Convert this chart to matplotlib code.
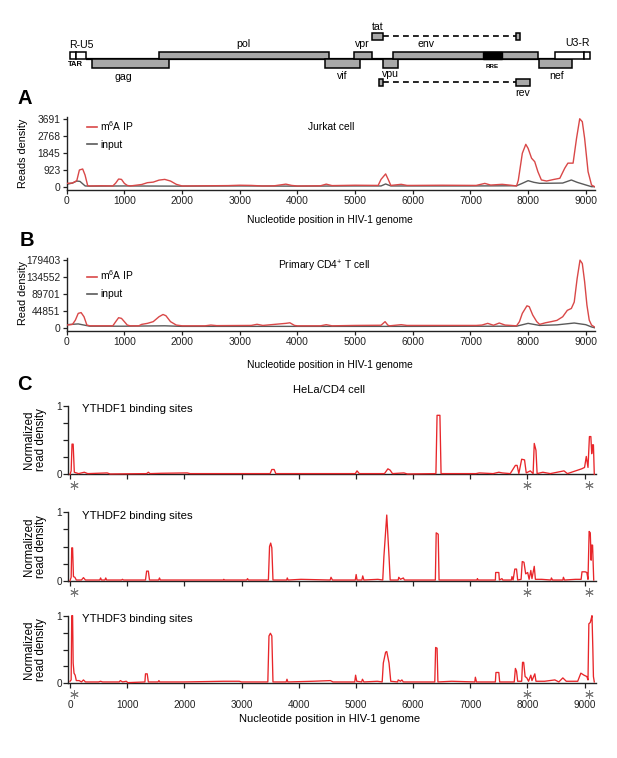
import matplotlib
matplotlib.use('Agg')
import matplotlib.pyplot as plt
from matplotlib.patches import Rectangle
from matplotlib.lines import Line2D
import matplotlib.transforms as mtransforms

plt.rcParams['font.family'] = ['Liberation Sans', 'DejaVu Sans']
plt.rcParams['mathtext.fontset'] = 'custom'
plt.rcParams['mathtext.rm'] = 'Liberation Sans'

# ---------------- DATA ----------------
# Genome map (nucleotide coordinates)
gene_names = ['gag', 'pol', 'vif', 'vpr', 'tat', 'tat', 'vpu', 'env', 'rev', 'rev', 'nef']
gene_start = [433, 1605, 4477, 4979, 5286, 7782, 5487, 5650, 5412, 7782, 8191]
gene_end = [1778, 4555, 5083, 5286, 5487, 7868, 5747, 8173, 5487, 8030, 8769]
gene_row = ['lower', 'upper', 'lower', 'upper', 'tat', 'tat', 'lower', 'upper', 'rev', 'rev', 'lower']
rre_range = [7210, 7549]
ltr5_boxes = [(57, 161), (161, 329)]
ltr3_boxes = [(8463, 8965), (8965, 9081)]

# Panel A: Jurkat cell
a_ip_x = [0, 100, 175, 220, 277, 318, 364, 400, 600, 800, 850, 900, 950, 1000, 1050, 1100,
          1300, 1400, 1500, 1600, 1700, 1800, 1900, 2000, 2400, 2800, 3000, 3200, 3400,
          3600, 3800, 3900, 4000, 4400, 4500, 4600, 4800, 5000, 5400, 5450, 5530, 5580,
          5620, 5800, 5900, 6000, 6500, 7100, 7250, 7350, 7550, 7700, 7800, 7830, 7900,
          7960, 8000, 8060, 8115, 8170, 8230, 8320, 8450, 8550, 8635, 8690, 8780, 8840,
          8895, 8940, 8980, 9040, 9100, 9155]
a_ip_y = [185, 200, 330, 915, 970, 640, 55, 40, 50, 40, 200, 420, 400, 180, 70, 40,
          120, 220, 250, 360, 400, 310, 130, 40, 50, 60, 80, 70, 40,
          50, 140, 70, 40, 50, 140, 60, 70, 80, 70, 400, 700, 360,
          70, 130, 70, 70, 80, 70, 180, 90, 130, 80, 40, 350, 1830,
          2320, 2100, 1560, 1370, 820, 370, 310, 400, 460, 1010, 1290, 1290, 2650,
          3720, 3560, 2650, 820, 90, 0]
a_in_x = [0, 100, 175, 230, 320, 400, 1000, 2000, 3000, 4000, 5000, 5450, 5530, 5620,
          6000, 7000, 7800, 7900, 8000, 8100, 8200, 8400, 8600, 8750, 8850, 9000, 9100, 9155]
a_in_y = [130, 200, 310, 290, 40, 30, 40, 30, 40, 30, 40, 40, 150, 40,
          40, 40, 50, 185, 330, 240, 185, 190, 200, 367, 240, 95, 0, 0]

# Panel B: Primary CD4+ T cell
b_ip_x = [0, 100, 150, 200, 250, 300, 350, 400, 800, 850, 900, 950, 1000, 1050, 1100, 1250,
          1300, 1400, 1500, 1600, 1670, 1720, 1800, 1900, 2000, 2400, 2500, 2600, 3200,
          3300, 3400, 3800, 3870, 3950, 4000, 4400, 4500, 4600, 5000, 5450, 5520, 5570,
          5600, 5800, 5900, 6000, 7100, 7200, 7300, 7400, 7500, 7600, 7800, 7850, 7900,
          7980, 8020, 8080, 8150, 8200, 8300, 8400, 8500, 8600, 8680, 8750, 8800, 8850,
          8900, 8940, 8980, 9020, 9060, 9100, 9150]
b_ip_y = [7000, 8800, 20000, 38000, 40000, 29000, 7000, 5000, 5000, 16000, 26500, 24700,
          16000, 7000, 5000, 5000, 8800, 11500, 16000, 29000, 35000, 31800, 16000, 7000,
          5000, 5000, 7000, 5500, 6000, 9000, 6000, 11500, 13000, 6000, 5000, 5000, 8000,
          5000, 6000, 6500, 16000, 6500, 5000, 8000, 6000, 6000, 6000, 7000, 11500, 6500,
          12400, 7000, 5000, 16000, 38000, 58000, 55700, 33600, 16000, 8800, 13000, 16000,
          19400, 29000, 46000, 51000, 68000, 130000, 179000, 170000, 122000, 60000, 20000,
          7000, 2000]
b_in_x = [0, 200, 400, 1000, 1700, 2000, 4000, 6000, 7800, 8000, 8200, 8500, 8800, 9000,
          9100, 9150]
b_in_y = [8000, 10000, 4000, 4000, 5000, 3500, 3500, 3500, 4000, 11500, 6000, 7500, 12400,
          8000, 2000, 0]

# Panel C: HeLa/CD4 cell, YTHDF1-3 binding sites (normalized)
c1_x = [0, 20, 35, 55, 75, 150, 250, 310, 650, 700, 1340, 1370, 1400, 1600, 2050, 2100,
        3000, 3500, 3530, 3570, 3600, 4000, 4990, 5020, 5060, 5500, 5560, 5600, 5640,
        5840, 5900, 6400, 6420, 6470, 6490, 7100, 7160, 7400, 7500, 7560, 7700, 7790,
        7820, 7850, 7900, 7950, 7980, 8050, 8100, 8120, 8150, 8170, 8270, 8400, 8640,
        8700, 8950, 9000, 9030, 9060, 9085, 9110, 9125, 9140, 9155, 9170]
c1_y = [0.0, 0.05, 0.44, 0.44, 0.03, 0.01, 0.03, 0.01, 0.02, 0.005, 0.01, 0.03, 0.01,
        0.015, 0.02, 0.01, 0.01, 0.01, 0.07, 0.07, 0.01, 0.01, 0.01, 0.05, 0.01, 0.01,
        0.08, 0.06, 0.01, 0.02, 0.005, 0.01, 0.86, 0.86, 0.01, 0.01, 0.02, 0.01, 0.03,
        0.02, 0.01, 0.13, 0.13, 0.01, 0.22, 0.21, 0.02, 0.05, 0.01, 0.45, 0.35, 0.01,
        0.03, 0.01, 0.05, 0.01, 0.08, 0.1, 0.26, 0.1, 0.55, 0.55, 0.3, 0.43, 0.43, 0.0]
c2_x = [0, 20, 30, 45, 60, 85, 110, 200, 235, 270, 520, 535, 550, 610, 625, 640, 900, 917,
        935, 1320, 1340, 1370, 1390, 1550, 1565, 1580, 2680, 2690, 2700, 3090, 3105, 3120,
        3470, 3490, 3510, 3530, 3550, 3790, 3800, 3815, 4040, 4550, 4565, 4590, 4990,
        5005, 5020, 5105, 5120, 5140, 5385, 5470, 5490, 5540, 5580, 5600, 5740, 5750,
        5780, 5830, 5850, 6390, 6405, 6440, 6455, 7120, 7125, 7140, 7440, 7445, 7500,
        7510, 7555, 7570, 7720, 7730, 7750, 7780, 7810, 7830, 7890, 7910, 7940, 7970,
        8005, 8030, 8060, 8080, 8120, 8140, 8250, 8410, 8420, 8440, 8620, 8630, 8650,
        8840, 8940, 8955, 9010, 9040, 9060, 9080, 9100, 9115, 9125, 9140, 9160]
c2_y = [0.0, 0.05, 0.48, 0.48, 0.06, 0.05, 0.01, 0.01, 0.045, 0.01, 0.01, 0.04, 0.01,
        0.01, 0.04, 0.01, 0.01, 0.02, 0.01, 0.01, 0.14, 0.14, 0.01, 0.01, 0.04, 0.01,
        0.01, 0.02, 0.01, 0.01, 0.03, 0.01, 0.01, 0.5, 0.55, 0.48, 0.01, 0.01, 0.04,
        0.01, 0.02, 0.01, 0.05, 0.01, 0.01, 0.09, 0.01, 0.01, 0.07, 0.01, 0.02, 0.01,
        0.35, 0.96, 0.35, 0.01, 0.01, 0.05, 0.02, 0.04, 0.01, 0.01, 0.70, 0.68, 0.01,
        0.01, 0.03, 0.01, 0.01, 0.12, 0.12, 0.01, 0.03, 0.01, 0.01, 0.06, 0.01, 0.17,
        0.17, 0.01, 0.02, 0.28, 0.27, 0.1, 0.12, 0.02, 0.15, 0.03, 0.21, 0.02, 0.02,
        0.01, 0.04, 0.01, 0.01, 0.05, 0.01, 0.02, 0.02, 0.13, 0.13, 0.12, 0.02, 0.72,
        0.7, 0.3, 0.52, 0.52, 0.01]
c3_x = [0, 20, 30, 45, 55, 70, 90, 110, 160, 200, 235, 270, 500, 535, 570, 860, 880, 920,
        985, 1010, 1310, 1320, 1350, 1370, 1540, 1555, 1570, 1990, 2685, 2960, 3000,
        3460, 3480, 3505, 3530, 3550, 3780, 3795, 3810, 4245, 4555, 4600, 4980, 4995,
        5015, 5100, 5115, 5140, 5375, 5460, 5480, 5520, 5540, 5580, 5610, 5730, 5740,
        5780, 5805, 5830, 6380, 6395, 6420, 6435, 6675, 7080, 7090, 7110, 7440, 7450,
        7500, 7515, 7770, 7790, 7810, 7830, 7900, 7915, 7935, 7960, 7990, 8020, 8060,
        8080, 8130, 8150, 8300, 8480, 8550, 8620, 8680, 8880, 8935, 8990, 9040, 9060,
        9075, 9100, 9115, 9130, 9145, 9155, 9170]
c3_y = [0.03, 0.05, 1.0, 1.0, 0.3, 0.15, 0.12, 0.04, 0.04, 0.02, 0.05, 0.02, 0.02, 0.03,
        0.02, 0.02, 0.04, 0.02, 0.03, 0.01, 0.02, 0.14, 0.14, 0.02, 0.02, 0.04, 0.02,
        0.02, 0.03, 0.03, 0.02, 0.02, 0.7, 0.74, 0.7, 0.02, 0.02, 0.06, 0.02, 0.03, 0.04,
        0.02, 0.02, 0.12, 0.03, 0.02, 0.06, 0.02, 0.03, 0.02, 0.3, 0.46, 0.47, 0.3, 0.03,
        0.02, 0.05, 0.03, 0.05, 0.02, 0.02, 0.53, 0.52, 0.02, 0.03, 0.02, 0.09, 0.02,
        0.02, 0.16, 0.16, 0.02, 0.02, 0.22, 0.18, 0.03, 0.03, 0.31, 0.31, 0.1, 0.08, 0.03,
        0.12, 0.04, 0.14, 0.03, 0.03, 0.05, 0.02, 0.08, 0.03, 0.03, 0.15, 0.12, 0.1, 0.05,
        0.88, 0.9, 0.95, 1.0, 0.5, 0.1, 0.02]
c_labels = ['YTHDF1 binding sites', 'YTHDF2 binding sites', 'YTHDF3 binding sites']
star_pos = [70, 8000, 9070]

a_yticks = [0, 923, 1845, 2768, 3691]
b_yticks = [0, 44851, 89701, 134552, 179403]
x_ticks = [0, 1000, 2000, 3000, 4000, 5000, 6000, 7000, 8000, 9000]

# ---------------- STYLE / LAYOUT ----------------
W, H = 617, 758
RED = '#d94848'
GRAY = '#5a5a5a'
CRED = '#e8262a'
FS = 7.4

fig = plt.figure(figsize=(W / 100, H / 100), dpi=100)


def add_ax(l, t, r, b):
    return fig.add_axes([l / W, 1 - b / H, (r - l) / W, (b - t) / H])


def fx(px):
    return px / W


def fy(py):
    return 1 - py / H


# ---------------- Genome map ----------------
gm = add_ax(66.7, 20, 595, 100)
gm.set_xlim(0, 9160)
gm.set_ylim(100, 20)
gm.axis('off')
rows = {'upper': (51.7, 59.3), 'lower': (59.3, 68.0), 'tat': (32.5, 40.3), 'rev': (78.5, 86.3)}
gm.plot([329, 8463], [59.3, 59.3], color='black', lw=1.6, zorder=1, solid_capstyle='butt')
for name, s, e, r in zip(gene_names, gene_start, gene_end, gene_row):
    y0, y1 = rows[r]
    gm.add_patch(Rectangle((s, y0), e - s, y1 - y0, facecolor='#a8a8a8',
                           edgecolor='black', lw=1.1, zorder=3))
gm.add_patch(Rectangle((rre_range[0], rows['upper'][0]), rre_range[1] - rre_range[0],
                       rows['upper'][1] - rows['upper'][0], facecolor='black',
                       edgecolor='black', lw=1.0, zorder=4))
for s, e in ltr5_boxes + ltr3_boxes:
    y0, y1 = rows['upper']
    gm.add_patch(Rectangle((s, y0), e - s, y1 - y0, facecolor='white',
                           edgecolor='black', lw=1.1, zorder=3))
# dashed splice lines
gm.plot([gene_end[4], gene_start[5]], [36.4, 36.4], color='black', lw=1.2, ls=(0, (3.5, 2.5)))
gm.plot([gene_end[8], gene_start[9]], [82.4, 82.4], color='black', lw=1.2, ls=(0, (3.5, 2.5)))

glabels = [('R-U5', 40, 44.5, 'left'), ('TAR', 30, 64.5, 'left'), ('gag', 980, 76.5, 'center'),
           ('pol', 3060, 44.0, 'center'), ('vif', 4780, 75.8, 'center'),
           ('vpr', 5130, 44.3, 'center'), ('tat', 5390, 27.0, 'center'),
           ('env', 6230, 44.3, 'center'), ('vpu', 5610, 74.3, 'center'),
           ('nef', 8490, 75.8, 'center'), ('rev', 7905, 92.5, 'center'),
           ('U3-R', 8850, 43.5, 'center')]
for t, x, y, ha in glabels:
    fw = 'bold' if t == 'TAR' else 'normal'
    fs = 5.5 if t == 'TAR' else 7.6
    gm.text(x, y, t, ha=ha, va='center', fontsize=fs, fontweight=fw)
gm.text(sum(rre_range) / 2, 66.7, 'RRE', ha='center', va='center', fontsize=4.5, fontweight='bold')


# ---------------- Panels A, B ----------------
def style_ab(ax, yticks):
    ax.set_xlim(0, 9160)
    for s in ['top', 'right']:
        ax.spines[s].set_visible(False)
    for s in ['left', 'bottom']:
        ax.spines[s].set_linewidth(1.0)
        ax.spines[s].set_color('#222222')
    ax.set_xticks(x_ticks)
    ax.set_yticks(yticks)
    ax.set_yticklabels([str(v) for v in yticks])
    ax.tick_params(direction='out', length=3, width=0.9, labelsize=FS, pad=1.5, colors='#222222')


axA = add_ax(66.7, 117, 595, 190)
axA.plot(a_ip_x, a_ip_y, color=RED, lw=1.0, zorder=3)
axA.plot(a_in_x, a_in_y, color=GRAY, lw=1.0, zorder=2)
axA.set_ylim(-181, 3817)
style_ab(axA, a_yticks)
axA.text(4580, 3277, 'Jurkat cell', ha='center', va='center', fontsize=FS)

axB = add_ax(66.7, 257.7, 595, 331)
axB.plot(b_ip_x, b_ip_y, color=RED, lw=1.0, zorder=3)
axB.plot(b_in_x, b_in_y, color=GRAY, lw=1.0, zorder=2)
axB.set_ylim(-8750, 185500)
style_ab(axB, b_yticks)
axB.text(4455, 161800, r'Primary CD4$^{\mathregular{+}}$ T cell', ha='center', va='center', fontsize=FS)

for ax, ytop in [(axA, 119), (axB, 268.5)]:
    handles = [Line2D([], [], color=RED, lw=1.2), Line2D([], [], color=GRAY, lw=1.2)]
    ax.legend(handles, [r'm$^{\mathregular{6}}$A IP', 'input'], loc='upper left',
              bbox_to_anchor=(fx(86.5), fy(ytop)), bbox_transform=fig.transFigure,
              frameon=False, fontsize=FS, handlelength=1.0, handletextpad=0.35,
              labelspacing=0.7, borderpad=0, borderaxespad=0)

fig.text(fx(330), fy(220), 'Nucleotide position in HIV-1 genome', ha='center', va='center', fontsize=FS)
fig.text(fx(330), fy(365), 'Nucleotide position in HIV-1 genome', ha='center', va='center', fontsize=FS)
fig.text(fx(25), fy(98), 'A', ha='center', va='center', fontsize=14.5, fontweight='bold')
fig.text(fx(27), fy(240), 'B', ha='center', va='center', fontsize=14.5, fontweight='bold')
fig.text(fx(24), fy(384), 'C', ha='center', va='center', fontsize=14.5, fontweight='bold')
fig.text(fx(23), fy(153), 'Reads density', rotation=90, ha='center', va='center', fontsize=FS + 0.4)
fig.text(fx(23), fy(293), 'Read density', rotation=90, ha='center', va='center', fontsize=FS + 0.4)

# ---------------- Panel C ----------------
fig.text(fx(329), fy(390), 'HeLa/CD4 cell', ha='center', va='center', fontsize=8.0)
c_series = [(c1_x, c1_y), (c2_x, c2_y), (c3_x, c3_y)]
c_tops = [405.7, 512.3, 615.7]
c_bots = [474.3, 580.7, 683.3]
for i, ((xs, ys), top, bot, lab) in enumerate(zip(c_series, c_tops, c_bots, c_labels)):
    ax = add_ax(68.3, top, 596, bot)
    ax.plot(xs, ys, color=CRED, lw=0.95, zorder=3, clip_on=False)
    ax.set_xlim(-30, 9200)
    ax.set_ylim(0, 1)
    for s in ['top', 'right']:
        ax.spines[s].set_visible(False)
    for s in ['left', 'bottom']:
        ax.spines[s].set_linewidth(1.0)
        ax.spines[s].set_color('#222222')
    ax.set_yticks([0, 0.25, 0.5, 0.75, 1])
    ax.set_yticklabels(['0', '', '', '', '1'])
    ax.set_xticks(x_ticks)
    if i < 2:
        ax.set_xticklabels([])
    ax.tick_params(direction='out', length=3.6, width=0.9, labelsize=FS - 0.2, pad=1.0,
                   colors='#222222')
    ax.tick_params(axis='x', pad=8.5)
    trans = mtransforms.blended_transform_factory(ax.transData, ax.transAxes)
    ax.plot(star_pos, [-0.16] * len(star_pos), transform=trans, linestyle='none',
            marker=(6, 2, 0), markersize=6.0, markeredgewidth=0.7, color='#7a7a7a',
            clip_on=False)
    ax.text(fx(81.7), fy(top + 3.5), lab, transform=fig.transFigure, ha='left', va='center',
            fontsize=8.2)
    fig.text(fx(35), fy((top + bot) / 2), 'Normalized\nread density', rotation=90,
             ha='center', va='center', fontsize=8.3, linespacing=1.05)

fig.text(fx(330), fy(718.5), 'Nucleotide position in HIV-1 genome', ha='center', va='center', fontsize=8.0)

fig.savefig('out.png', dpi=100)
